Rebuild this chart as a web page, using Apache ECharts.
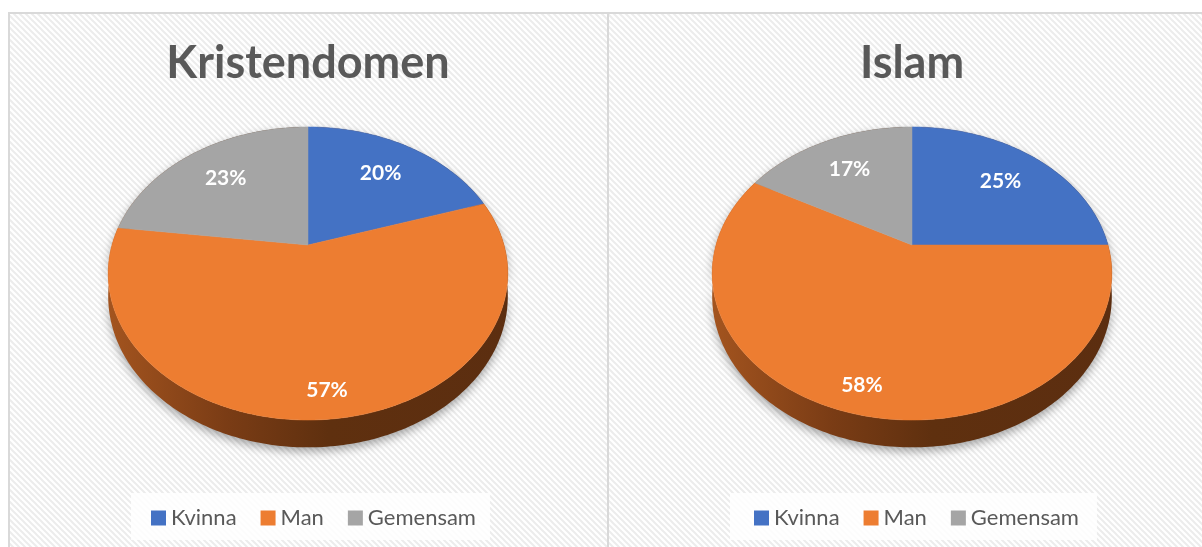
<!DOCTYPE html>
<html>
<head>
<meta charset="utf-8">
<script src="https://cdn.jsdelivr.net/npm/echarts@6/dist/echarts.min.js"></script>
<style>
html,body{margin:0;padding:0;background:#fff;}
#main{width:1202px;height:547px;}
</style>
</head>
<body>
<div id="main"></div>
<script>
// ---- data ----
const categories = ['Kvinna', 'Man', 'Gemensam'];
const kristendomen = [20, 57, 23];
const islam = [25, 58, 17];
const chartTitles = ['Kristendomen', 'Islam'];
const colors = ['#4472c4', '#ed7d31', '#a5a5a5'];

const panelValues = [kristendomen, islam];

// ---- layout / geometry ----
const centersX = [308, 912];
const centerY = 245;
const RX = 196, RY = 141, PERSP = 0.1945, DEPTH = 22;

function proj(cx, u, v, d) {
  const k = 1 / (1 - PERSP * v);
  return [cx + RX * u * k, centerY + RY * v * k + d * k];
}
function arcPts(cx, a0, a1, r, d) {
  const pts = [];
  const n = Math.max(2, Math.ceil((a1 - a0) / (Math.PI / 180)));
  for (let i = 0; i <= n; i++) {
    const a = a0 + (a1 - a0) * i / n;
    pts.push(proj(cx, r * Math.sin(a), -r * Math.cos(a), d));
  }
  return pts;
}

// background stripe pattern
const pat = document.createElement('canvas');
pat.width = 6; pat.height = 6;
(function () {
  const c = pat.getContext('2d');
  c.fillStyle = '#ffffff';
  c.fillRect(0, 0, 6, 6);
  c.strokeStyle = '#ececec';
  c.lineWidth = 2;
  c.beginPath();
  c.moveTo(-3, -3); c.lineTo(9, 9);
  c.moveTo(-3, 3); c.lineTo(3, 9);
  c.moveTo(3, -3); c.lineTo(9, 3);
  c.stroke();
})();

const chart = echarts.init(document.getElementById('main'), null, { renderer: 'canvas' });

function makeRender(ci) {
  return function (params, api) {
    const pi = params.dataIndex;
    const vals = panelValues[pi];
    const total = vals.reduce((s, x) => s + x, 0);
    let before = 0;
    for (let j = 0; j < ci; j++) before += vals[j];
    const a0 = before / total * Math.PI * 2;
    const a1 = (before + vals[ci]) / total * Math.PI * 2;
    const cx = centersX[pi];
    const top = arcPts(cx, a0, a1, 1, 0);
    const bottom = arcPts(cx, a0, a1, 1, DEPTH).reverse();
    const face = [proj(cx, 0, 0, 0)].concat(top);
    const am = (a0 + a1) / 2;
    const lr = vals[ci] / total > 0.5 ? 0.86 : 0.7;
    const lp = proj(cx, lr * Math.sin(am), -lr * Math.cos(am), 0);
    const base = api.visual('color');
    const wallFill = new echarts.graphic.LinearGradient(0, 0, 1, 0, [
      { offset: 0, color: '#a3541f' },
      { offset: 0.3, color: '#7a3c15' },
      { offset: 0.55, color: '#5f300f' },
      { offset: 1, color: '#5c2e10' }
    ]);
    return {
      type: 'group',
      children: [
        {
          type: 'polygon', z2: 1,
          shape: { points: top.concat(bottom) },
          style: {
            fill: wallFill, stroke: null,
            shadowColor: 'rgba(0,0,0,0.35)', shadowBlur: 10, shadowOffsetY: 4
          }
        },
        {
          type: 'polygon', z2: 10,
          shape: { points: face },
          style: { fill: base, stroke: base, lineWidth: 0.5 }
        },
        {
          type: 'text', z2: 20,
          x: lp[0], y: lp[1],
          style: {
            text: vals[ci] + '%',
            fill: '#ffffff',
            font: 'bold 21px Lato',
            align: 'center', verticalAlign: 'middle'
          }
        }
      ]
    };
  };
}

const legendCommon = {
  data: categories,
  icon: 'rect',
  itemWidth: 15, itemHeight: 15,
  itemGap: 24,
  selectedMode: false,
  backgroundColor: 'rgba(255,255,255,0.85)',
  textStyle: { color: '#595959', fontSize: 22, fontFamily: 'Lato', lineHeight: 22 }
};

chart.setOption({
  animation: false,
  graphic: [
    { type: 'rect', z: -10, shape: { x: 0, y: 0, width: 1202, height: 547 }, style: { fill: '#ffffff' } },
    { type: 'rect', z: -9, shape: { x: 9, y: 13, width: 599, height: 560 },
      style: { fill: { image: pat, repeat: 'repeat' }, stroke: '#d9d9d9', lineWidth: 2 } },
    { type: 'rect', z: -9, shape: { x: 608, y: 13, width: 620, height: 560 },
      style: { fill: { image: pat, repeat: 'repeat' }, stroke: '#d9d9d9', lineWidth: 2 } }
  ],
  title: chartTitles.map((t, i) => ({
    text: t,
    left: centersX[i] - 5,
    textAlign: 'center',
    top: 36,
    textStyle: { fontSize: 45, fontWeight: 'bold', color: '#595959', fontFamily: 'Lato' }
  })),
  legend: [
    Object.assign({}, legendCommon, { left: 131, top: 493, padding: [14, 14, 11, 20] }),
    Object.assign({}, legendCommon, { left: 730, top: 493, padding: [14, 18, 11, 24] })
  ],
  series: categories.map((name, ci) => ({
    type: 'custom',
    name: name,
    coordinateSystem: 'none',
    itemStyle: { color: colors[ci] },
    data: panelValues.map((vals, pi) => [pi, vals[ci]]),
    renderItem: makeRender(ci)
  }))
});
</script>
</body>
</html>
